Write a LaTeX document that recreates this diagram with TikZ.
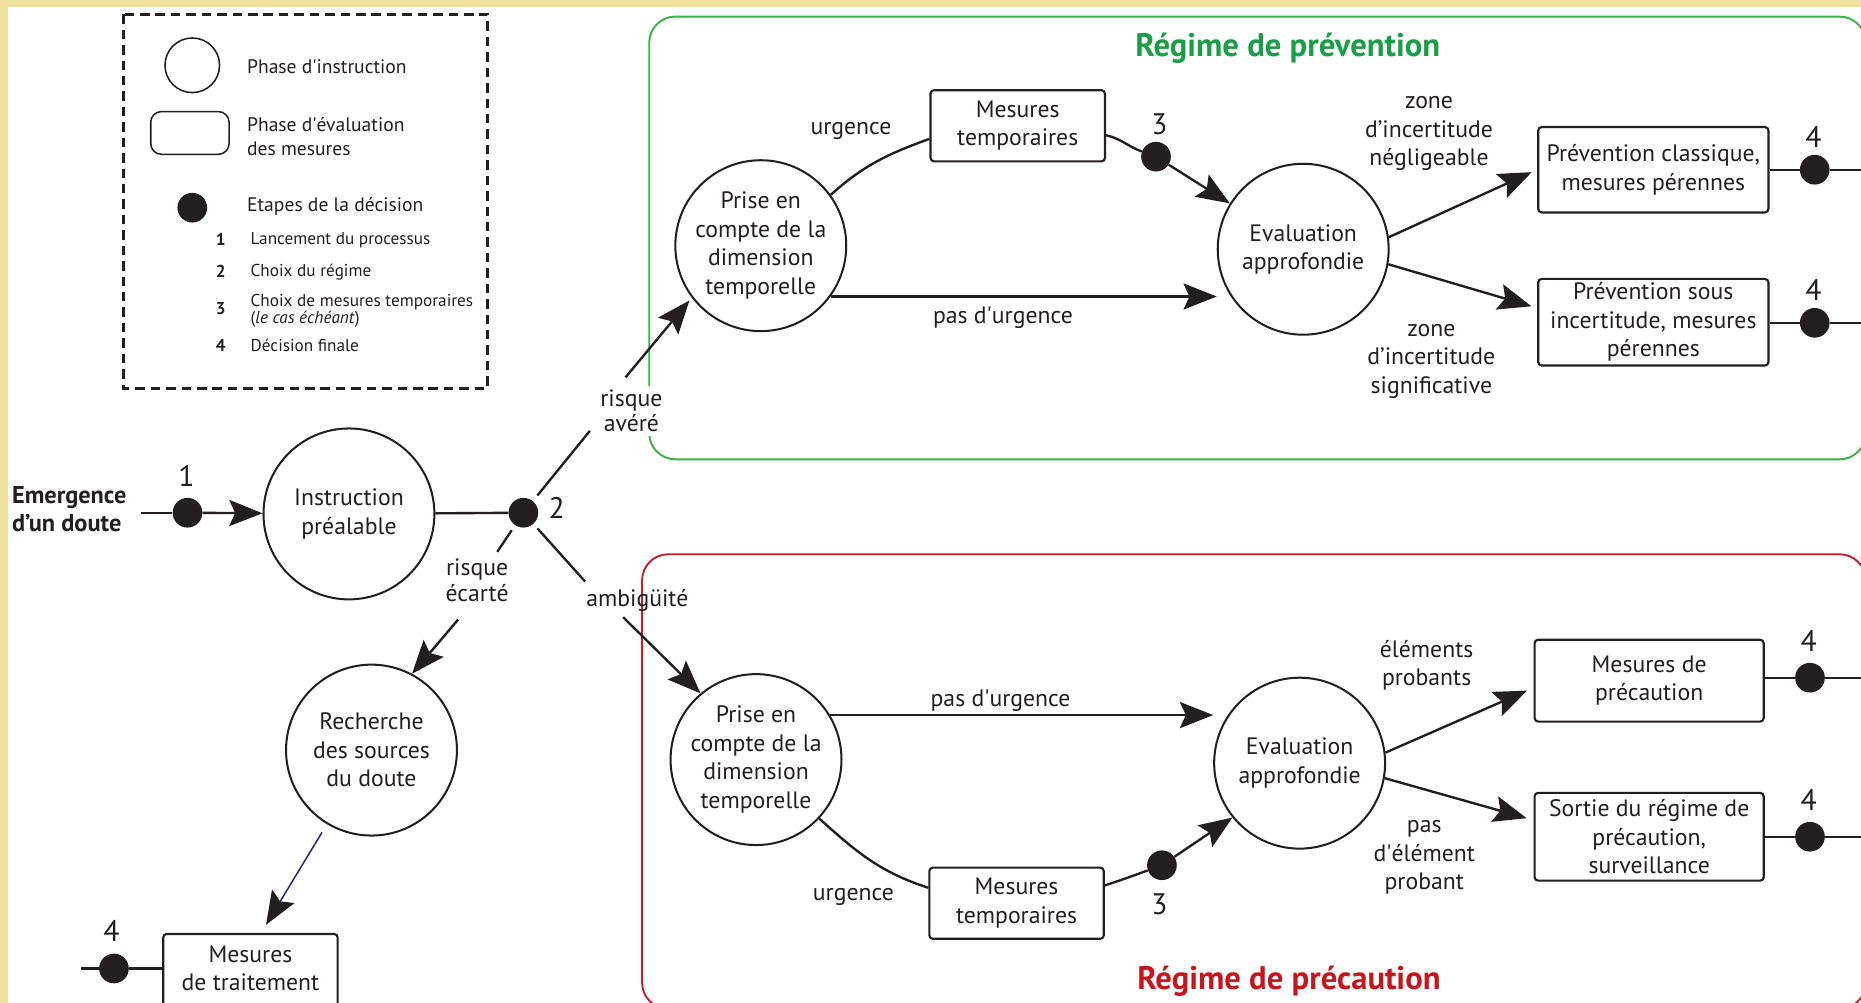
\documentclass[tikz,border=0pt]{standalone}
\usepackage{fontspec}
\setmainfont{PT Sans}
\usetikzlibrary{arrows.meta,calc}
\definecolor{parch}{HTML}{F1E1A0}
\definecolor{ink}{HTML}{231F20}
\definecolor{gline}{HTML}{3DB04A}
\definecolor{gtitle}{HTML}{1A9E47}
\definecolor{rline}{HTML}{C81E2E}
\definecolor{rtitle}{HTML}{C4161C}
\definecolor{navyline}{HTML}{2B2A7A}
\newcommand\fmain{\fontsize{20}{24}\selectfont}
\newcommand\flab{\fontsize{20}{21.5}\selectfont}
\newcommand\fnum{\fontsize{25}{28}\selectfont}
\newcommand\fleg{\fontsize{16.5}{20}\selectfont}
\newcommand\flegs{\fontsize{14.5}{14}\selectfont}
\newcommand\ftitle{\fontsize{27.5}{30}\selectfont\bfseries}
\newcommand\femerg{\fontsize{20.5}{24}\selectfont\bfseries}
\tikzset{
  phase/.style={circle, draw=ink, line width=1.7pt, minimum size=144pt, inner sep=0pt, align=center, font=\fmain, text=ink},
  mbox/.style={rectangle, rounded corners=3pt, draw=ink, line width=1.8pt, align=center, font=\fmain, text=ink, inner sep=0pt},
  dotn/.style={circle, fill=ink, minimum size=25pt, inner sep=0pt},
  lab/.style={font=\fmain, text=ink, align=center, inner sep=3pt, yshift=-3.5pt},
  labs/.style={font=\flab, text=ink, align=center, inner sep=3pt},
  numl/.style={font=\fnum, text=ink, inner sep=0pt},
  conn/.style={draw=ink, line width=2pt},
  arr/.style={conn, -{Stealth[length=28pt, width=22pt, inset=5pt]}},
  legtxt/.style={font=\fleg, text=ink, anchor=west, align=left, inner sep=0pt},
  legsub/.style={font=\flegs, text=ink, anchor=west, align=left, inner sep=0pt},
  legnum/.style={font=\flegs\bfseries, text=ink, inner sep=0pt},
}
\begin{document}
\begin{tikzpicture}[x=1pt, y=-1pt]
\useasboundingbox (0,0) rectangle (1568,845);
\clip (0,0) rectangle (1568,845);
\fill[parch] (0,0) rectangle (1568,845);
\fill[white] (7,6) rectangle (1568,845);
% regimes
\draw[gline, line width=1.6pt, rounded corners=22pt] (547,14) rectangle (1572,387);
\draw[rline, line width=1.6pt, rounded corners=22pt] (541,467) rectangle (1572,850);
\node[font=\ftitle, text=gtitle] (tprev) at (1085,41) {Régime de prévention};
\node[font=\ftitle, text=rtitle] (tprec) at (1086,827) {Régime de précaution};

% legend
\draw[ink, line width=2.4pt, dash pattern=on 8pt off 5pt] (104,12) rectangle (411,327);
\node[circle, draw=ink, line width=1.3pt, minimum size=46pt, inner sep=0pt] (lcirc) at (162,55) {};
\node[rectangle, rounded corners=9pt, draw=ink, line width=1.3pt, minimum width=66pt, minimum height=36pt, inner sep=0pt] (lbox) at (160,112) {};
\node[dotn] (ldot) at (162,175) {};
\node[legtxt] (l1) at (208,56) {Phase d\textquotesingle instruction};
\node[legtxt] (l2) at (208,115) {Phase d\textquotesingle évaluation\\des mesures};
\node[legtxt] (l3) at (208,174) {Etapes de la décision};
\node[legnum] (k1) at (186,202) {1};
\node[legsub] (s1) at (211,202) {Lancement du processus};
\node[legnum] (k2) at (186,229) {2};
\node[legsub] (s2) at (211,229) {Choix du régime};
\node[legnum] (k3) at (186,260) {3};
\node[legsub] (s3) at (211,262) {Choix de mesures temporaires\\(\textit{le cas échéant})};
\node[legnum] (k4) at (186,291) {4};
\node[legsub] (s4) at (211,291) {Décision finale};

% start
\node[font=\femerg, text=ink, align=left, anchor=west, inner sep=0pt] (emerg) at (10,429) {Emergence\\d’un doute};
\coordinate (e0) at (119,432);
\node[dotn] (d1) at (158,432) {};
\node[numl] (n1m) at (157,401) {1};
\node[phase] (instr) at (294,433) {Instruction\\préalable};
\node[dotn] (d2) at (441,432) {};
\node[numl] (n2m) at (469,428) {2};
\draw[conn] (e0) -- (d1);
\draw[arr] (d1) -- (instr);
\draw[conn] (instr) -- (d2);

% circles of both regimes
\node[phase] (prise1) at (641,207) {Prise en\\compte de la\\dimension\\temporelle};
\node[phase] (eval1) at (1098,210) {Evaluation\\approfondie};
\node[phase] (prise2) at (637,640) {Prise en\\compte de la\\dimension\\temporelle};
\node[phase] (eval2) at (1095,643) {Evaluation\\approfondie};
\node[phase] (rech) at (313,632) {Recherche\\des sources\\du doute};

% branches from 2
\node[labs, fill=white] (lav) at (532,346) {risque\\avéré};
\coordinate (avA) at (497,363);
\coordinate (avB) at (527,318);
\draw[conn, shorten <=6pt] (d2) -- (avA);
\draw[arr, shorten >=3pt] (avB) -- (prise1.217);

\node[labs] (lec) at (402,489) {risque\\écarté};
\coordinate (ecA) at (419,465);
\coordinate (ecB) at (386,522);
\draw[conn, shorten <=5pt] (d2) -- (ecA);
\draw[arr] (ecB) -- (rech.62);

\node[labs] (lam) at (537,506) {ambigüité};
\coordinate (amA) at (493,490);
\coordinate (amB) at (525,520);
\draw[conn, shorten <=5pt] (d2) -- (amA);
\draw[arr] (amB) -- (prise2.130);

% traitement
\node[mbox, minimum width=147pt, minimum height=84pt, anchor=north] (traitbox) at (211,786) {};
\node[font=\fmain, text=ink, align=center, inner sep=0pt] (trait) at (211,816) {Mesures\\de traitement};
\draw[navyline, line width=1.3pt, shorten <=8pt, shorten >=8pt, -{Stealth[length=28pt, width=22pt, inset=5pt, color=ink]}] (rech.239) -- ([xshift=9pt]traitbox.north);
\node[dotn] (d4a) at (96,816) {};
\node[numl] (n4a) at (94,784) {4};
\coordinate (t0) at (68,816);
\draw[conn] (t0) -- (d4a);
\draw[conn] (d4a) -- (d4a -| traitbox.west);

% prevention regime
\node[mbox, minimum width=147pt, minimum height=60pt] (mt1) at (857.5,106) {Mesures\\temporaires};
\node[lab] (lurg1) at (717,107) {urgence};
\draw[conn] (prise1.36) to[out=42, in=200] ([yshift=-11pt]mt1.west);
\node[dotn] (d3a) at (974,132) {};
\node[numl] (n3a) at (977,105) {3};
\draw[conn] ([yshift=-8pt]mt1.east) to[out=-12, in=160] (d3a);
\draw[arr] (d3a) -- (eval1.148);
\draw[arr] (prise1.-36) -- (prise1.-36 -| eval1.west);
\node[lab] (lpu1) at (845,264) {pas d\textquotesingle urgence};

\node[lab] (lzn) at (1204,109) {zone\\d’incertitude\\négligeable};
\node[lab] (lzs) at (1206,301) {zone\\d’incertitude\\significative};
\node[mbox, minimum width=194pt, minimum height=72pt] (pc) at (1393,143) {Prévention classique,\\mesures pérennes};
\node[mbox, minimum width=194pt, minimum height=73pt] (psi) at (1393,271.5) {Prévention sous\\incertitude, mesures\\pérennes};
\draw[arr, shorten >=5pt] (eval1.8) -- (pc.west);
\draw[arr, shorten >=5pt] (eval1.-10) -- ([yshift=12pt]psi.west);
\node[dotn] (d4b) at (1529,143) {};
\node[numl] (n4b) at (1528,115) {4};
\coordinate (r1) at (1572,143);
\draw[conn] (pc) -- (d4b);
\draw[conn] (d4b) -- (r1);
\node[dotn] (d4c) at (1529,272) {};
\node[numl] (n4c) at (1528,244) {4};
\coordinate (r2) at (1572,272);
\draw[conn] (d4c -| psi.east) -- (d4c);
\draw[conn] (d4c) -- (r2);

% precaution regime
\draw[arr] (prise2.31) -- (prise2.31 -| eval2.west);
\node[lab] (lpu2) at (843,587) {pas d\textquotesingle urgence};
\node[mbox, minimum width=147pt, minimum height=60pt] (mt2) at (856.5,761) {Mesures\\temporaires};
\node[lab] (lurg2) at (719,752) {urgence};
\draw[conn] (prise2.-43) to[out=-42, in=162] ([yshift=13pt]mt2.west);
\node[dotn] (d3b) at (979,729) {};
\node[numl] (n3b) at (977,762) {3};
\draw[conn] ([yshift=15pt]mt2.east) to[out=18, in=200] (d3b);
\draw[arr] (d3b) -- (eval2.219);

\node[lab] (lep) at (1202,557) {éléments\\probants};
\node[lab] (lpe) at (1200,719) {pas\\d\textquotesingle élément\\probant};
\node[mbox, minimum width=193pt, minimum height=69pt] (mp) at (1389.5,573.5) {Mesures de\\précaution};
\node[mbox, minimum width=193pt, minimum height=74pt] (sr) at (1389.5,705) {Sortie du régime de\\précaution,\\surveillance};
\draw[arr, shorten >=6pt] (eval2.7) -- ([yshift=-6pt]mp.west);
\draw[arr, shorten >=6pt] (eval2.-10) -- ([yshift=14pt]sr.west);
\node[dotn] (d4d) at (1525,571) {};
\node[numl] (n4d) at (1524,540) {4};
\coordinate (r3) at (1572,571);
\draw[conn] (d4d -| mp.east) -- (d4d);
\draw[conn] (d4d) -- (r3);
\node[dotn] (d4e) at (1525,705) {};
\node[numl] (n4e) at (1524,674) {4};
\coordinate (r4) at (1572,705);
\draw[conn] (sr) -- (d4e);
\draw[conn] (d4e) -- (r4);
\end{tikzpicture}
\end{document}
